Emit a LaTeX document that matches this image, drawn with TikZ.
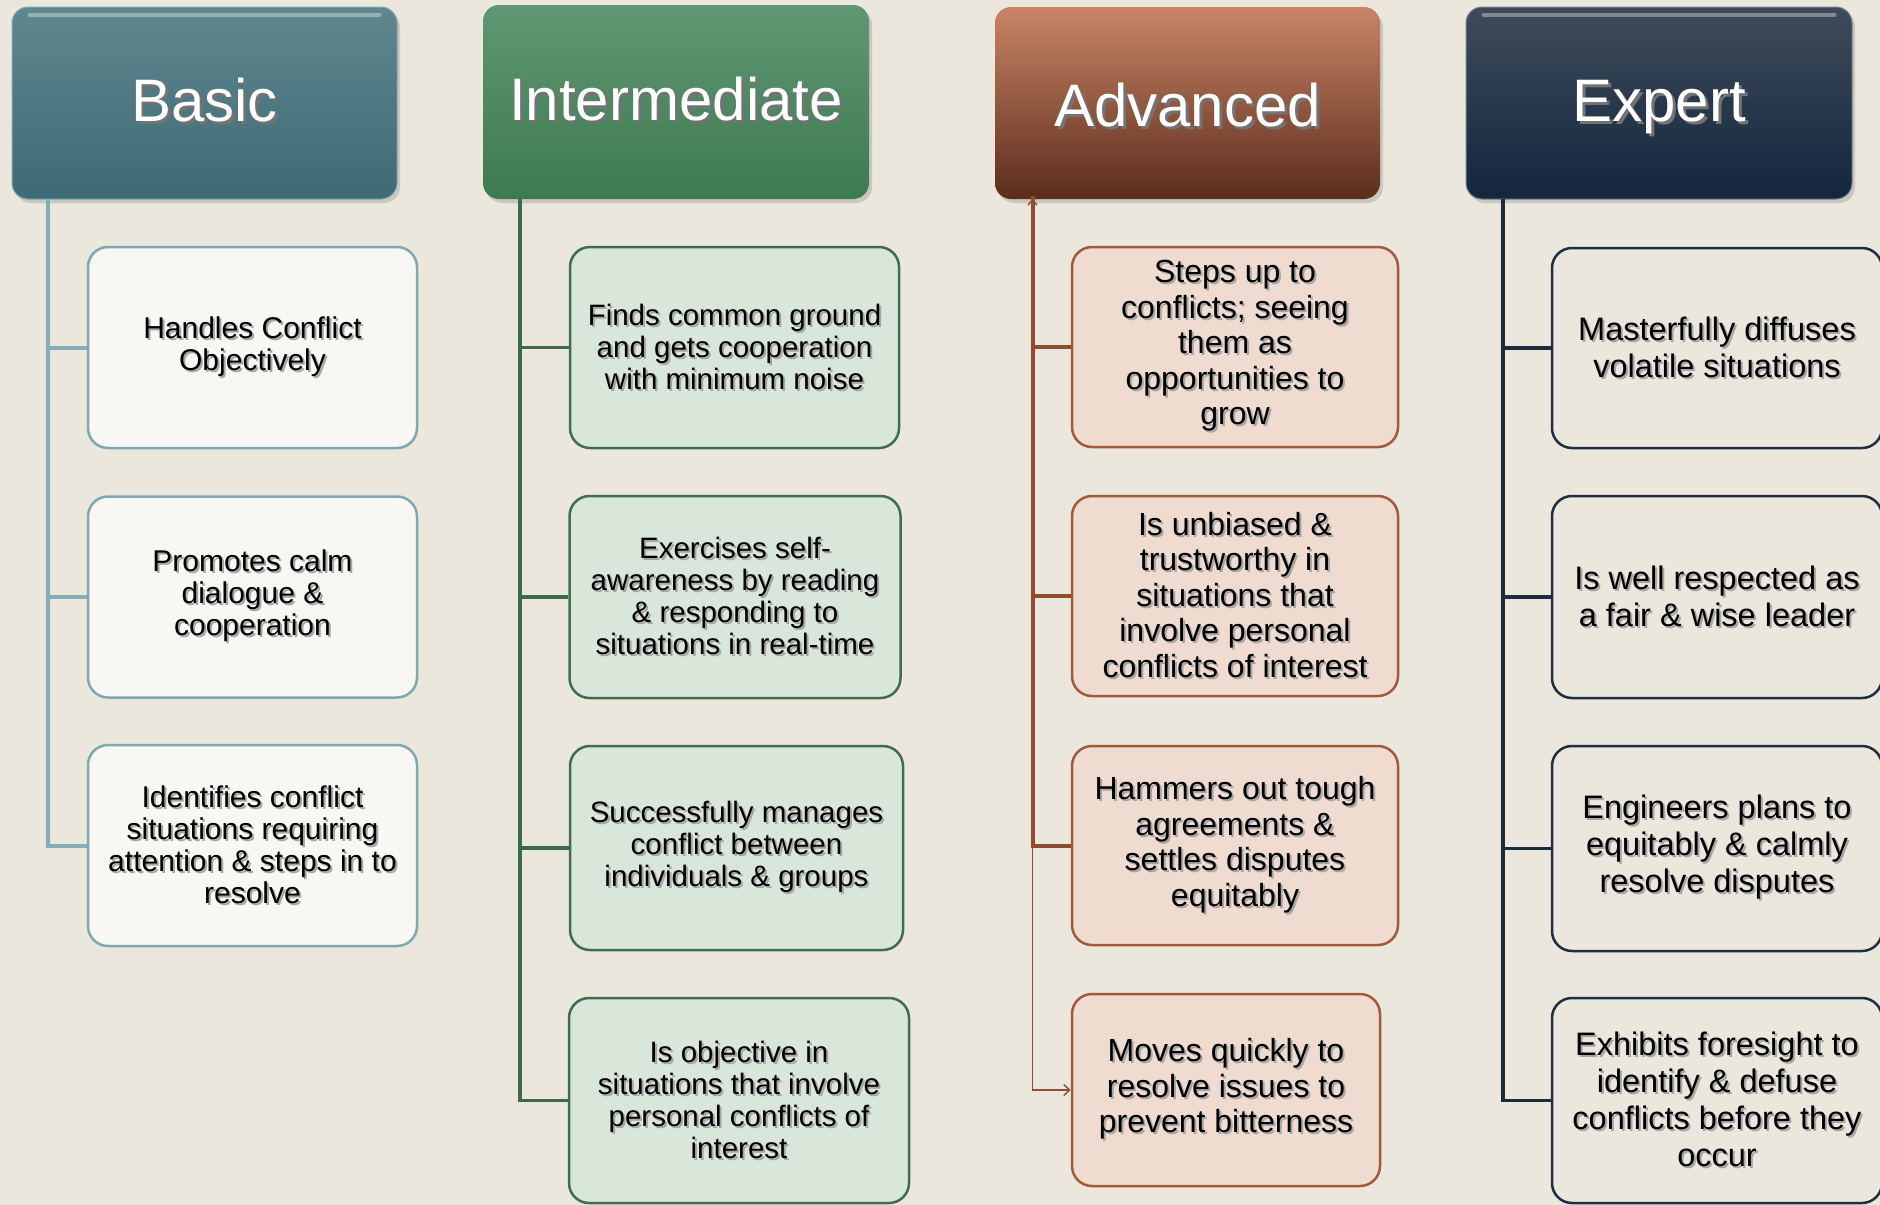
\documentclass[tikz,border=0pt]{standalone}
\usepackage{fontspec}
\setmainfont{Liberation Sans}
\usetikzlibrary{shadows,arrows.meta}
\definecolor{bg}{HTML}{EBE7DD}
\definecolor{bTop}{HTML}{5F878F}
\definecolor{bBot}{HTML}{3E6A75}
\definecolor{bLine}{HTML}{84AEB8}
\definecolor{bFill}{HTML}{F8F7F4}
\definecolor{bEdge}{HTML}{7EA9B3}
\definecolor{iTop}{HTML}{619774}
\definecolor{iBot}{HTML}{3C7A51}
\definecolor{iLine}{HTML}{3D6A49}
\definecolor{iFill}{HTML}{D9E7DB}
\definecolor{iEdge}{HTML}{3F6E4C}
\definecolor{aTop}{HTML}{C98566}
\definecolor{aMid}{HTML}{8F4C31}
\definecolor{aBot}{HTML}{5C2C1C}
\definecolor{aLine}{HTML}{8E4C33}
\definecolor{aFill}{HTML}{F0DBD0}
\definecolor{aEdge}{HTML}{A25A3C}
\definecolor{eTop}{HTML}{3F4B5B}
\definecolor{eBot}{HTML}{13263E}
\definecolor{eLine}{HTML}{1D2C3D}
\definecolor{eFill}{HTML}{EBE7DD}
\definecolor{eEdge}{HTML}{1F2E40}
\newcommand\hsh[1]{\leavevmode\rlap{\kern3pt\raisebox{-3pt}{\textcolor{black!55}{#1}}}#1}
\newcommand\tsh[1]{\leavevmode\rlap{\kern2pt\raisebox{-2pt}{\textcolor{black!35}{#1}}}#1}
\tikzset{
  hdr/.style={rounded corners=16pt, minimum width=385pt, minimum height=192pt, inner sep=0pt,
    text=white, font=\fontsize{60}{66}\selectfont, text height=44pt, text depth=8pt,
    drop shadow={shadow xshift=3pt, shadow yshift=-4pt, opacity=.3}},
  gloss/.style={line width=4pt, white, opacity=.35, line cap=round},
  cbox/.style={rounded corners=20pt, line width=2.5pt, minimum width=329pt, minimum height=201pt,
    inner sep=0pt, align=center, text=black},
  bchild/.style={cbox, fill=bFill, draw=bEdge, font=\fontsize{30}{32}\selectfont},
  ichild/.style={cbox, fill=iFill, draw=iEdge, font=\fontsize{29.5}{32}\selectfont},
  achild/.style={cbox, fill=aFill, draw=aEdge, font=\fontsize{32}{35.5}\selectfont},
  echild/.style={cbox, fill=eFill, draw=eEdge, font=\fontsize{32.5}{37}\selectfont},
  bline/.style={draw=bLine, line width=4pt},
  iline/.style={draw=iLine, line width=3.5pt},
  aline/.style={draw=aLine, line width=4pt},
  athin/.style={draw=aLine, line width=1.4pt},
  eline/.style={draw=eLine, line width=3.5pt}
}
\begin{document}
\begin{tikzpicture}[x=1pt,y=-1pt]
\useasboundingbox (0,0) rectangle (1880,1205);
\fill[bg] (0,0) rectangle (1880,1205);

% ---------- Basic ----------
\node[hdr, top color=bTop, bottom color=bBot, draw=bEdge, line width=1pt] (hB) at (204.5,103) {\hsh{Basic}};
\draw[gloss] ([xshift=18pt,yshift=-8pt]hB.north west) -- ([xshift=-18pt,yshift=-8pt]hB.north east);
\node[bchild] (b1) at (252.5,347.5) {\tsh{Handles Conflict}\\\tsh{Objectively}};
\node[bchild] (b2) at (252.5,597) {\tsh{Promotes calm}\\\tsh{dialogue \&}\\\tsh{cooperation}};
\node[bchild] (b3) at (252.5,845.5) {\tsh{Identifies conflict}\\\tsh{situations requiring}\\\tsh{attention \& steps in to}\\\tsh{resolve}};
\coordinate (tB) at (48,199);
\draw[bline] (tB) |- (b3.west);
\draw[bline] (tB |- b1.west) -- (b1.west);
\draw[bline] (tB |- b2.west) -- (b2.west);

% ---------- Intermediate ----------
\node[hdr, top color=iTop, bottom color=iBot, minimum width=386pt, minimum height=194pt] (hI) at (676,102) {\hsh{Intermediate}};
\node[ichild] (i1) at (734.5,347.5) {\tsh{Finds common ground}\\\tsh{and gets cooperation}\\\tsh{with minimum noise}};
\node[ichild, minimum width=331pt, minimum height=202pt] (i2) at (735,597) {\tsh{Exercises self-}\\\tsh{awareness by reading}\\\tsh{\& responding to}\\\tsh{situations in real-time}};
\node[ichild, minimum width=333pt, minimum height=204pt] (i3) at (736.5,848) {\tsh{Successfully manages}\\\tsh{conflict between}\\\tsh{individuals \& groups}};
\node[ichild, minimum width=340pt, minimum height=205pt] (i4) at (739,1100.5) {\tsh{Is objective in}\\\tsh{situations that involve}\\\tsh{personal conflicts of}\\\tsh{interest}};
\coordinate (tI) at (520,199);
\draw[iline] (tI) |- (i4.west);
\draw[iline] (tI |- i1.west) -- (i1.west);
\draw[iline] (tI |- i2.west) -- (i2.west);
\draw[iline] (tI |- i3.west) -- (i3.west);

% ---------- Advanced ----------
\node[hdr, top color=aTop, middle color=aMid, bottom color=aBot] (hA) at (1187.5,103) {\raisebox{-5pt}{\hsh{Advanced}}};
\node[achild, minimum width=326pt, minimum height=200pt] (a1) at (1235,347) {\tsh{Steps up to}\\\tsh{conflicts; seeing}\\\tsh{them as}\\\tsh{opportunities to}\\\tsh{grow}};
\node[achild, minimum width=326pt, minimum height=200pt] (a2) at (1235,596) {\tsh{Is unbiased \&}\\\tsh{trustworthy in}\\\tsh{situations that}\\\tsh{involve personal}\\\tsh{conflicts of interest}};
\node[achild, minimum width=326pt, minimum height=199pt] (a3) at (1235,845.5) {\tsh{Hammers out tough}\\\tsh{agreements \&}\\\tsh{settles disputes}\\\tsh{equitably}};
\node[achild, minimum width=308pt, minimum height=192pt] (a4) at (1226,1090) {\tsh{Moves quickly to}\\\tsh{resolve issues to}\\\tsh{prevent bitterness}};
\coordinate (tA) at (1032.5,199);
\draw[athin, {Straight Barb[length=5pt,width=9pt]}-{Straight Barb[length=6pt,width=11pt]}] (tA) |- (a4.west);
\draw[aline] ([yshift=3pt]tA) |- (a3.west);
\draw[aline] (tA |- a1.west) -- (a1.west);
\draw[aline] (tA |- a2.west) -- (a2.west);

% ---------- Expert ----------
\node[hdr, top color=eTop, bottom color=eBot, draw=eTop!70!white, line width=1pt, minimum width=386pt] (hE) at (1659,103) {\hsh{Expert}};
\draw[gloss] ([xshift=18pt,yshift=-8pt]hE.north west) -- ([xshift=-18pt,yshift=-8pt]hE.north east);
\node[echild, minimum width=330pt, minimum height=200pt] (e1) at (1717,348) {\tsh{Masterfully diffuses}\\\tsh{volatile situations}};
\node[echild, minimum width=330pt, minimum height=202pt] (e2) at (1717,597) {\tsh{Is well respected as}\\\tsh{a fair \& wise leader}};
\node[echild, minimum width=330pt, minimum height=205pt] (e3) at (1717,848.5) {\tsh{Engineers plans to}\\\tsh{equitably \& calmly}\\\tsh{resolve disputes}};
\node[echild, minimum width=330pt, minimum height=205pt] (e4) at (1717,1100.5) {\tsh{Exhibits foresight to}\\\tsh{identify \& defuse}\\\tsh{conflicts before they}\\\tsh{occur}};
\coordinate (tE) at (1503,199);
\draw[eline] (tE) |- (e4.west);
\draw[eline] (tE |- e1.west) -- (e1.west);
\draw[eline] (tE |- e2.west) -- (e2.west);
\draw[eline] (tE |- e3.west) -- (e3.west);
\end{tikzpicture}
\end{document}
